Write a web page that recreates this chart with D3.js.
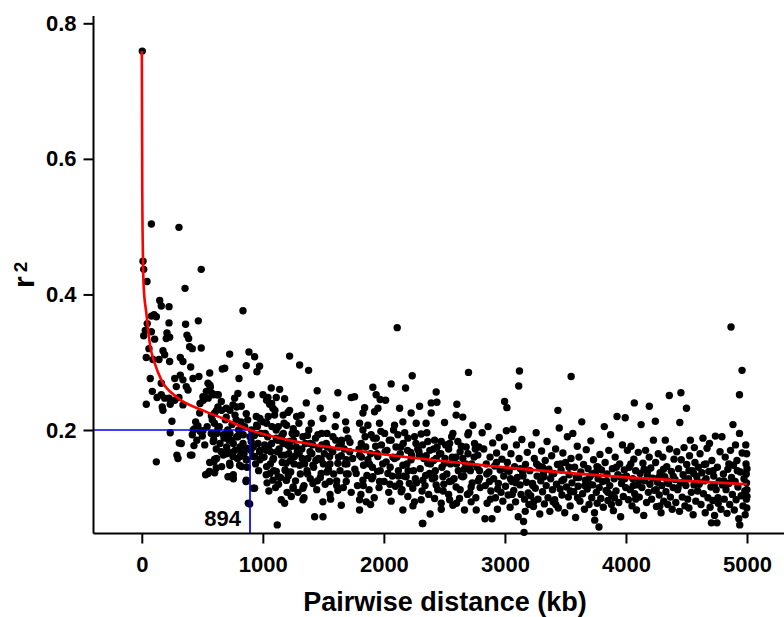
<!DOCTYPE html>
<html lang="en">
<head>
  <meta charset="UTF-8" />
  <title>LD decay</title>
  <script src="https://cdn.jsdelivr.net/npm/d3@7/dist/d3.min.js"></script>
  <style>
    html, body { margin: 0; padding: 0; background: #fff; }
    svg { display: block; font-family: "Liberation Sans", Arial, sans-serif; }
  </style>
</head>
<body>
  <div id="chart"></div>
  <script>
    // pairwise distance (kb) and r2 of every point
    const distKb = [
      4,79,307,10,16,491,43,357,
      148,161,225,101,79,120,225,467,362,45,29,16,79,208,202,106,230,373,387,395,417,491,59,175,189,37,92,142,230,318,340,404,561,665,70,161,272,318,340,285,423,472,547,566,533,505,367,382,87,161,126,189,225,272,307,37,169,235,340,582,621,657,629,
      175,249,235,445,417,437,464,505,500,582,574,594,629,326,431,615,656,120,299,414,561,602,547,615,602,602,478,
      563,508,590,481,632,549,618,660,728,784,425,481,618,673,728,784,838,893,590,646,701,756,811,866,921,976,618,673,742,811,866,921,976,660,728,756,825,921,880,
      836,726,885,932,1221,685,863,973,951,1304,1378,803,1069,1139,1449,1620,1730,794,767,904,1001,1042,1111,1180,1359,1474,753,822,1056,1083,1221,698,
      1031,1073,1100,1168,1045,976,949,1031,1127,1196,1251,1279,1073,1127,1169,1224,1031,1059,1127,1183,1196,1251,
      698,780,863,946,1001,1097,1207,1317,1400,1497,1607,1684,
      698,739,794,836,904,960,1028,1111,1166,1221,1276,1331,1392,1455,1524,1579,1648,1703,
      712,753,822,863,726,808,932,973,1083,1152,1193,1262,1304,1372,1414,1482,1552,1620,1689,
      712,863,932,1028,1083,1111,1193,1249,1331,1414,1482,1552,1620,1689,
      1152,1235,1331,1496,1428,1497,891,1119,1648,
      1010,1020,1035,1048,1062,1075,1090,1105,1118,1130,1145,1160,1175,1188,1200,1215,1230,1242,1258,1270,1285,1298,1310,1325,1340,1352,1365,1380,1392,1405,1420,1435,1445,1460,1475,1488,1500,1515,1530,1542,1555,1570,1585,1598,1610,1625,1638,1650,1665,1678,1690,1705,1718,1730,
      527,559,596,757,737,861,290,310,401,455,520,540,575,600,640,690,710,745,770,800,820,850,875,905,930,955,985,680,700,720,770,790,845,870,900,940,965,995,1015,1040,1065,1088,1110,1135,1158,1180,1205,1228,1252,1275,1300,1322,1345,1368,1390,1412,1438,1462,1485,1508,1532,1555,1578,1602,1625,1648,1672,1695,1720,1742,1050,1130,1210,1290,1370,1450,1530,1610,1690,1180,1340,1560,
      2110,2234,2699,1909,2060,2179,2432,1758,1936,1969,2014,2391,2438,2603,2295,2130,1841,1951,
      1827,1923,2225,2391,2597,2652,2735,1799,1868,1964,2088,2157,2267,2349,2501,2570,2694,
      1827,1895,1937,2006,2060,2116,2198,2253,2308,2363,2419,2474,2543,2611,2680,2749,1813,
      1799,1868,1950,2019,2088,2157,2225,2294,2363,2432,2501,2570,2652,2708,2776,
      1771,1827,1909,1964,2033,2130,2184,2239,2322,2377,2432,2488,2543,2597,2652,2721,2790,
      1799,1854,2143,2198,2253,2308,2157,2419,2474,2543,2570,2625,2666,2721,2763,1799,2382,2322,2474,
      1760,1782,1795,1810,1832,1845,1860,1878,1890,1905,1920,1932,1948,1960,1975,1990,2002,2025,2040,2052,2070,2080,2095,2108,2120,2140,2150,2165,2172,2190,2210,2222,2245,2260,2280,2300,2315,2330,2345,2355,2370,2385,2400,2412,2425,2445,2460,2480,2495,2510,2520,2535,2550,2560,2580,2595,2615,2630,2640,2660,2675,2690,2700,2715,2730,2745,2760,2770,2785,2795,2318,2835,
      1815,1850,1880,1915,1945,1980,2010,2045,2075,2100,2135,2160,2195,2230,2265,2290,2320,2350,2380,2410,2440,2470,2505,2535,2565,2600,2630,2665,2695,2725,2755,2790,1830,1900,1970,2050,2120,2200,2270,2340,2420,2490,2560,2640,2710,2780,1890,2060,2240,2600,
      3120,3114,3547,2997,3016,3438,
      4069,4193,4358,4454,4500,4868,4959,4938,
      2812,2825,2838,2846,2853,2861,2868,2877,2884,2893,2899,2907,2915,2922,2931,2938,2946,2953,2961,2968,2975,2983,2990,2996,2872,2940,
      3005,3012,3020,3027,3035,3043,3050,3058,3066,3073,3080,3088,3095,3103,3110,3117,3125,3133,3140,3147,3154,3158,3162,3170,3178,3185,3192,3198,3046,3128,3168,
      3206,3213,3221,3228,3236,3243,3251,3258,3266,3273,3281,3288,3296,3303,3311,3318,3326,3333,3341,3348,3356,3363,3371,3378,3386,3393,3262,3322,3398,
      3404,3411,3419,3426,3434,3441,3449,3456,3464,3471,3479,3486,3494,3501,3509,3516,3524,3531,3539,3546,3554,3561,3569,3576,3584,3591,3598,3470,3530,
      3605,3612,3620,3627,3635,3642,3650,3657,3665,3672,3680,3687,3695,3702,3710,3717,3725,3732,3740,3742,3747,3755,3762,3770,3777,3779,3785,3792,3798,3660,3720,3760,
      3806,3813,3821,3828,3836,3843,3851,3858,3866,3873,3881,3888,3896,3903,3911,3918,3926,3933,3941,3948,3956,3963,3971,3978,3986,3994,3998,3840,3905,3960,
      4005,4012,4020,4027,4035,4042,4050,4057,4065,4072,4080,4087,4095,4102,4110,4117,4125,4132,4140,4147,4155,4162,4170,4177,4185,4192,4198,4060,4150,
      4205,4212,4220,4227,4235,4243,4245,4252,4260,4267,4275,4282,4290,4297,4305,4312,4320,4325,4330,4337,4345,4352,4360,4367,4375,4382,4390,4397,4270,4340,
      4405,4412,4420,4427,4435,4442,4445,4450,4457,4465,4472,4480,4487,4495,4502,4510,4517,4525,4532,4540,4547,4555,4562,4565,4570,4577,4585,4592,4598,4480,4560,
      4605,4612,4620,4627,4636,4640,4647,4655,4662,4670,4677,4685,4690,4695,4702,4706,4710,4717,4725,4732,4739,4745,4752,4755,4762,4770,4777,4785,4793,4797,4650,4720,
      4805,4812,4820,4827,4835,4842,4850,4857,4864,4872,4879,4884,4888,4895,4902,4905,4910,4917,4925,4932,4938,4940,4945,4952,4960,4967,4975,4982,4990,4992,4994,4995,4996,4997,4998,4999,5000,5000,4985,
      2850,2930,3010,3090,3150,3230,3310,3390,3460,3540,3610,3690,3770,3850,3920,3990,4040,4110,4180,4250,4310,4390,4430,4520,4590,4660,4730,4810,4850,4920,2880,3060,3240,3420,3600,3880,4080,4280,4520,4760
    ];
    const r2 = [
      0.759,0.504,0.499,0.449,0.437,0.437,0.419,0.409,
      0.391,0.383,0.382,0.370,0.368,0.367,0.358,0.361,0.356,0.357,0.347,0.339,0.345,0.343,0.335,0.334,0.337,0.340,0.335,0.323,0.320,0.321,0.320,0.317,0.311,0.307,0.304,0.304,0.301,0.307,0.301,0.293,0.284,0.290,0.276,0.269,0.276,0.281,0.274,0.264,0.276,0.279,0.269,0.263,0.257,0.249,0.264,0.259,0.257,0.252,0.248,0.247,0.247,0.244,0.248,0.238,0.234,0.238,0.237,0.254,0.252,0.242,0.234,
      0.229,0.213,0.196,0.212,0.193,0.202,0.206,0.199,0.191,0.215,0.195,0.186,0.202,0.180,0.177,0.172,0.168,0.153,0.158,0.163,0.152,0.157,0.136,0.144,0.137,0.225,0.225,
      0.266,0.244,0.252,0.239,0.252,0.247,0.229,0.229,0.229,0.234,0.200,0.198,0.195,0.193,0.195,0.190,0.193,0.190,0.183,0.180,0.175,0.180,0.175,0.173,0.175,0.170,0.158,0.163,0.166,0.161,0.156,0.161,0.156,0.146,0.148,0.134,0.146,0.114,0.092,
      0.376,0.312,0.315,0.308,0.309,0.291,0.295,0.294,0.286,0.296,0.288,0.276,0.262,0.260,0.258,0.255,0.248,0.254,0.247,0.252,0.252,0.248,0.248,0.246,0.240,0.232,0.237,0.235,0.238,0.232,0.229,0.232,
      0.244,0.239,0.229,0.222,0.220,0.217,0.207,0.210,0.205,0.207,0.202,0.220,0.180,0.185,0.195,0.175,0.146,0.136,0.131,0.141,0.126,0.116,
      0.219,0.215,0.224,0.220,0.212,0.222,0.226,0.222,0.210,0.217,0.222,0.212,
      0.195,0.185,0.190,0.180,0.183,0.180,0.170,0.188,0.180,0.183,0.175,0.190,0.180,0.193,0.180,0.190,0.180,0.188,
      0.168,0.161,0.166,0.156,0.151,0.148,0.161,0.168,0.156,0.163,0.151,0.161,0.148,0.158,0.148,0.156,0.161,0.151,0.156,
      0.131,0.126,0.114,0.134,0.126,0.139,0.126,0.114,0.114,0.121,0.136,0.124,0.111,0.124,
      0.097,0.102,0.097,0.094,0.072,0.072,0.091,0.060,0.089,
      0.160,0.195,0.122,0.176,0.150,0.205,0.140,0.115,0.168,0.185,0.130,0.152,0.210,0.140,0.108,0.165,0.138,0.195,0.150,0.125,0.168,0.210,0.135,0.158,0.118,0.180,0.140,0.200,0.128,0.165,0.145,0.188,0.112,0.158,0.130,0.178,0.150,0.120,0.195,0.142,0.105,0.170,0.135,0.205,0.125,0.160,0.140,0.185,0.115,0.150,0.200,0.135,0.168,0.108,
      0.134,0.139,0.153,0.128,0.131,0.124,0.163,0.181,0.163,0.185,0.178,0.205,0.221,0.210,0.205,0.215,0.200,0.208,0.222,0.200,0.212,0.205,0.215,0.200,0.192,0.205,0.195,0.188,0.165,0.185,0.170,0.158,0.165,0.145,0.170,0.150,0.140,0.160,0.178,0.190,0.168,0.158,0.200,0.172,0.192,0.163,0.178,0.155,0.185,0.195,0.165,0.172,0.150,0.192,0.168,0.178,0.155,0.172,0.195,0.165,0.175,0.150,0.168,0.185,0.175,0.162,0.172,0.150,0.182,0.158,0.110,0.120,0.132,0.108,0.135,0.125,0.138,0.118,0.135,0.092,0.100,0.098,
      0.351,0.280,0.285,0.263,0.268,0.262,0.256,0.249,0.252,0.245,0.244,0.240,0.241,0.238,0.235,0.232,0.233,0.232,
      0.225,0.227,0.225,0.225,0.222,0.219,0.207,0.210,0.207,0.210,0.207,0.212,0.210,0.210,0.211,0.195,0.193,
      0.200,0.193,0.188,0.195,0.185,0.193,0.188,0.190,0.194,0.183,0.185,0.183,0.180,0.183,0.175,0.180,0.180,
      0.163,0.156,0.161,0.153,0.158,0.148,0.156,0.163,0.151,0.158,0.151,0.156,0.158,0.148,0.163,
      0.136,0.126,0.131,0.124,0.136,0.121,0.131,0.114,0.126,0.136,0.119,0.131,0.124,0.116,0.131,0.116,0.129,
      0.097,0.094,0.109,0.102,0.094,0.097,0.082,0.099,0.092,0.097,0.089,0.099,0.082,0.094,0.082,0.082,0.076,0.062,0.083,
      0.142,0.118,0.172,0.105,0.148,0.190,0.133,0.112,0.165,0.145,0.100,0.176,0.139,0.115,0.198,0.150,0.124,0.170,0.108,0.145,0.132,0.200,0.117,0.160,0.140,0.175,0.112,0.132,0.196,0.150,0.121,0.167,0.140,0.128,0.172,0.143,0.110,0.158,0.133,0.196,0.105,0.150,0.128,0.172,0.140,0.112,0.165,0.145,0.120,0.178,0.135,0.105,0.150,0.190,0.128,0.160,0.140,0.112,0.176,0.132,0.150,0.105,0.196,0.140,0.122,0.160,0.100,0.145,0.175,0.115,0.062,0.069,
      0.160,0.175,0.150,0.188,0.165,0.178,0.168,0.185,0.160,0.175,0.165,0.180,0.170,0.162,0.180,0.168,0.178,0.162,0.170,0.155,0.175,0.165,0.158,0.172,0.160,0.150,0.168,0.142,0.165,0.150,0.172,0.140,0.118,0.128,0.140,0.120,0.132,0.140,0.122,0.118,0.130,0.110,0.125,0.132,0.108,0.125,0.090,0.095,0.088,0.092,
      0.287,0.265,0.279,0.242,0.233,0.229,
      0.240,0.235,0.251,0.255,0.232,0.352,0.288,0.252,
      0.196,0.172,0.118,0.150,0.092,0.205,0.138,0.160,0.110,0.069,0.181,0.128,0.147,0.100,0.166,0.083,0.121,0.189,0.141,0.108,0.157,0.095,0.132,0.175,0.124,0.113,
      0.117,0.199,0.152,0.104,0.139,0.086,0.165,0.124,0.201,0.111,0.146,0.094,0.178,0.130,0.072,0.158,0.119,0.105,0.186,0.137,0.065,0.049,0.098,0.149,0.123,0.167,0.107,0.090,0.128,0.143,0.080,
      0.140,0.103,0.178,0.121,0.087,0.158,0.114,0.196,0.132,0.098,0.147,0.076,0.125,0.169,0.109,0.137,0.091,0.155,0.118,0.183,0.100,0.142,0.080,0.128,0.162,0.112,0.150,0.131,0.094,
      0.136,0.097,0.172,0.120,0.149,0.085,0.203,0.113,0.141,0.104,0.166,0.127,0.078,0.152,0.116,0.190,0.101,0.134,0.088,0.158,0.122,0.195,0.109,0.145,0.071,0.130,0.176,0.125,0.145,
      0.117,0.160,0.095,0.138,0.212,0.106,0.149,0.083,0.126,0.171,0.113,0.143,0.090,0.131,0.184,0.100,0.119,0.156,0.078,0.067,0.137,0.108,0.092,0.128,0.057,0.115,0.164,0.099,0.141,0.118,0.135,0.146,
      0.124,0.086,0.205,0.152,0.111,0.135,0.096,0.170,0.118,0.193,0.104,0.143,0.081,0.128,0.160,0.110,0.220,0.134,0.093,0.150,0.072,0.121,0.178,0.102,0.141,0.218,0.115,0.125,0.100,0.130,
      0.132,0.170,0.097,0.145,0.112,0.176,0.088,0.128,0.157,0.106,0.140,0.082,0.119,0.167,0.101,0.136,0.208,0.115,0.151,0.074,0.125,0.170,0.093,0.133,0.108,0.160,0.120,0.118,0.142,
      0.144,0.098,0.129,0.185,0.111,0.213,0.152,0.087,0.123,0.165,0.104,0.137,0.078,0.118,0.160,0.095,0.131,0.185,0.109,0.146,0.090,0.121,0.172,0.101,0.139,0.083,0.115,0.157,0.130,0.125,
      0.127,0.093,0.168,0.112,0.143,0.080,0.211,0.122,0.156,0.101,0.134,0.174,0.088,0.118,0.149,0.098,0.128,0.162,0.185,0.108,0.140,0.075,0.119,0.174,0.152,0.095,0.131,0.110,0.145,0.124,0.136,
      0.120,0.165,0.090,0.137,0.188,0.106,0.149,0.078,0.128,0.173,0.100,0.139,0.180,0.086,0.116,0.063,0.155,0.096,0.132,0.074,0.191,0.112,0.063,0.145,0.092,0.125,0.168,0.083,0.190,0.119,0.125,0.140,
      0.135,0.098,0.160,0.112,0.077,0.142,0.121,0.090,0.170,0.130,0.105,0.208,0.148,0.082,0.124,0.178,0.097,0.155,0.116,0.069,0.195,0.060,0.138,0.103,0.166,0.088,0.128,0.110,0.178,0.150,0.135,0.098,0.122,0.165,0.085,0.112,0.143,0.102,0.075,
      0.135,0.152,0.142,0.122,0.132,0.118,0.145,0.135,0.150,0.110,0.130,0.122,0.145,0.108,0.145,0.128,0.150,0.125,0.140,0.112,0.142,0.132,0.115,0.140,0.125,0.150,0.118,0.125,0.150,0.140,0.098,0.105,0.095,0.090,0.100,0.090,0.098,0.088,0.085,0.100
    ];

    // fitted decay curve
    const fitKb = [0, 4, 10, 16, 37, 70, 106, 161, 285, 505, 671, 894, 1221, 1744, 2818, 3787, 5000];
    const fitR2 = [0.759, 0.55, 0.45, 0.41, 0.373, 0.323, 0.299, 0.274, 0.249, 0.229, 0.217, 0.2, 0.185, 0.17, 0.148, 0.133, 0.12];

    // half-decay marker
    const markKb = 894;
    const markR2 = 0.2;

    const xTicks = [0, 1000, 2000, 3000, 4000, 5000];
    const yTicks = [0.2, 0.4, 0.6, 0.8];

    const width = 784, height = 617;
    const frameLeft = 93.5, frameBottom = 533.5, frameTop = 16;

    const svg = d3.select("#chart").append("svg")
      .attr("width", width)
      .attr("height", height);

    const x = d3.scaleLinear().domain([0, 5000]).range([141.8, 747]);
    const y = d3.scaleLinear().domain([0.2, 0.8]).range([430, 23.3]);

    const points = distKb.map((d, i) => ({ kb: d, r2: r2[i] }));

    // scatter
    svg.append("g")
      .selectAll("circle")
      .data(points)
      .join("circle")
      .attr("cx", d => x(d.kb))
      .attr("cy", d => y(d.r2))
      .attr("r", 3.7)
      .attr("fill", "#000");

    // blue guide lines at r2 = 0.2
    svg.append("line")
      .attr("x1", frameLeft).attr("x2", x(markKb))
      .attr("y1", y(markR2)).attr("y2", y(markR2))
      .attr("stroke", "#0000ee").attr("stroke-width", 1.7);
    svg.append("line")
      .attr("x1", x(markKb)).attr("x2", x(markKb))
      .attr("y1", y(markR2)).attr("y2", frameBottom)
      .attr("stroke", "#0000ee").attr("stroke-width", 1.7);
    svg.append("text")
      .attr("x", x(markKb) - 9)
      .attr("y", 526)
      .attr("text-anchor", "end")
      .attr("font-size", 22)
      .attr("font-weight", "bold")
      .text(markKb);

    // red fitted curve
    const line = d3.line()
      .x((d, i) => x(d))
      .y((d, i) => y(fitR2[i]))
      .curve(d3.curveMonotoneX);
    svg.append("path")
      .attr("d", line(fitKb))
      .attr("fill", "none")
      .attr("stroke", "#ff0000")
      .attr("stroke-width", 2.6);

    // axes
    const xAxis = svg.append("g")
      .attr("transform", `translate(0,${frameBottom})`)
      .call(d3.axisBottom(x).tickValues(xTicks).tickSize(10).tickPadding(13).tickFormat(d3.format("d")));
    xAxis.select(".domain").remove();
    xAxis.selectAll("line").attr("stroke", "#000").attr("stroke-width", 2);
    xAxis.selectAll("text").attr("font-size", 22).attr("font-weight", "bold")
      .attr("fill", "#000").attr("font-family", "Liberation Sans, Arial, sans-serif");

    const yAxis = svg.append("g")
      .attr("transform", `translate(${frameLeft},0)`)
      .call(d3.axisLeft(y).tickValues(yTicks).tickSize(10).tickPadding(7).tickFormat(d3.format(".1f")));
    yAxis.select(".domain").remove();
    yAxis.selectAll("line").attr("stroke", "#000").attr("stroke-width", 2);
    yAxis.selectAll("text").attr("font-size", 22).attr("font-weight", "bold")
      .attr("fill", "#000").attr("font-family", "Liberation Sans, Arial, sans-serif");

    svg.append("line")
      .attr("x1", frameLeft).attr("x2", width)
      .attr("y1", frameBottom).attr("y2", frameBottom)
      .attr("stroke", "#000").attr("stroke-width", 2);
    svg.append("line")
      .attr("x1", frameLeft).attr("x2", frameLeft)
      .attr("y1", frameTop).attr("y2", frameBottom)
      .attr("stroke", "#000").attr("stroke-width", 2);

    // axis titles
    svg.append("text")
      .attr("x", 445)
      .attr("y", 611)
      .attr("text-anchor", "middle")
      .attr("font-size", 27)
      .attr("font-weight", "bold")
      .text("Pairwise distance (kb)");

    const yTitle = svg.append("text")
      .attr("transform", "translate(34,288) rotate(-90)")
      .attr("font-weight", "bold");
    yTitle.append("tspan").attr("font-size", 30).text("r");
    yTitle.append("tspan").attr("font-size", 19).attr("dx", 4).attr("dy", -7).text("2");
  </script>
</body>
</html>
